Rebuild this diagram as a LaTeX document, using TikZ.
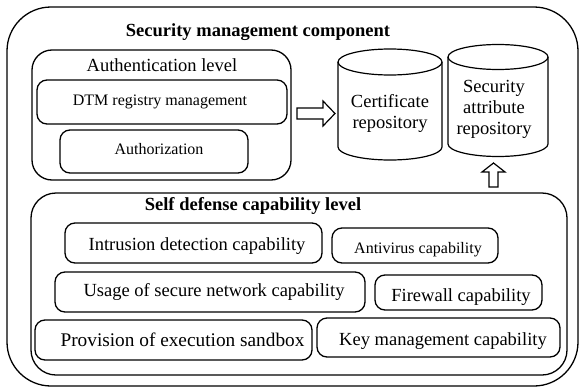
\documentclass[tikz,border=0pt]{standalone}
\usepackage{fontspec}
\setmainfont{Liberation Serif}
\begin{document}
\begin{tikzpicture}[x=1pt,y=-1pt,
  box/.style={draw, line width=1.3pt, rounded corners=#1, inner sep=0pt},
  box/.default=10pt,
  big/.style={font=\fontsize{18.5}{21}\selectfont},
  small/.style={font=\fontsize{16}{19}\selectfont},
  lbl/.style={anchor=base, inner sep=0pt},
  cyl/.style={draw, line width=1.2pt},
  barrow/.style={draw, line width=1.2pt, line join=miter}]
\useasboundingbox (0,0) rectangle (580,388);

% outer component
\node[box=44pt, minimum width=571pt, minimum height=379pt] (outer) at (292.5,196.5) {};
\node[lbl, font=\fontsize{18.5}{21}\selectfont\bfseries] (title) at (258,36) {Security management component};

% authentication level
\node[box=20pt, minimum width=259pt, minimum height=130pt] (auth) at (161.5,115) {};
\node[lbl, big] (authT) at (162,71) {Authentication level};
\node[box=10pt, minimum width=250pt, minimum height=44pt] (dtm) at (162,102) {};
\node[lbl, small] (dtmT) at (160,105) {DTM registry management};
\node[box=10pt, minimum width=188pt, minimum height=43pt] (authz) at (154,151.5) {};
\node[lbl, small] (authzT) at (159,154) {Authorization};

% repositories
\draw[cyl] (338,62) -- (338,147) arc[start angle=180,end angle=360,x radius=52pt,y radius=13pt]
  -- (442,62) arc[start angle=0,end angle=180,x radius=52pt,y radius=13pt] -- cycle;
\draw[cyl] (338,62) arc[start angle=180,end angle=360,x radius=52pt,y radius=13pt];
\node[big, align=center, inner sep=0pt] (cert) at (390,113.5) {Certificate\\repository};

\draw[cyl] (448,57) -- (448,144) arc[start angle=180,end angle=360,x radius=50pt,y radius=12.5pt]
  -- (548,57) arc[start angle=0,end angle=180,x radius=50pt,y radius=12.5pt] -- cycle;
\draw[cyl] (448,57) arc[start angle=180,end angle=360,x radius=50pt,y radius=12.5pt];
\node[big, align=center, inner sep=0pt] (sec) at (494,109) {Security\\attribute\\repository};

% block arrows
\draw[barrow] (297,108) -- (323,108) -- (323,101) -- (335,113.5) -- (323,126) -- (323,119) -- (297,119) -- cycle;
\draw[barrow] (489,187) -- (489,172) -- (482,172) -- (493.5,163) -- (505,172) -- (498,172) -- (498,187) -- cycle;

% self defense level
\node[box=25pt, minimum width=536pt, minimum height=182pt] (self) at (299,284) {};
\node[lbl, font=\fontsize{18.5}{21}\selectfont\bfseries] (selfT) at (253,210) {Self defense capability level};

\node[box, minimum width=257pt, minimum height=40pt] (ids) at (193.5,243) {};
\node[lbl, big] (idsT) at (197,250) {Intrusion detection capability};
\node[box, minimum width=166pt, minimum height=35pt] (av) at (415,245.5) {};
\node[lbl, small] (avT) at (418,253.3) {Antivirus capability};
\node[box, minimum width=310pt, minimum height=40pt] (usn) at (210,292) {};
\node[lbl, big] (usnT) at (214,296.7) {Usage of secure network capability};
\node[box, minimum width=167pt, minimum height=35pt] (fw) at (458.5,292.5) {};
\node[lbl, big] (fwT) at (461,301.7) {Firewall capability};
\node[box, minimum width=277pt, minimum height=40pt] (prov) at (173.5,340) {};
\node[lbl, font=\fontsize{19.3}{22}\selectfont] (provT) at (182.5,346.7) {Provision of execution sandbox};
\node[box, minimum width=243pt, minimum height=39pt] (key) at (438.5,337.5) {};
\node[lbl, big] (keyT) at (443,345) {Key management capability};
\end{tikzpicture}
\end{document}
